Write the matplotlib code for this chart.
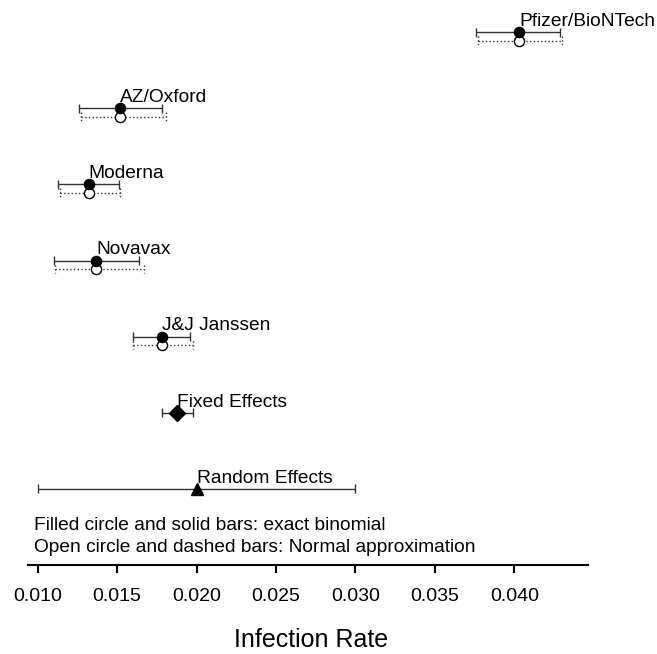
import numpy as np
import matplotlib.pyplot as plt

plt.rcParams['font.family'] = ['Liberation Sans', 'DejaVu Sans']

# Studien: Rate mit exaktem (binomial) und normalapprox. Konfidenzintervall
studien = ["Pfizer/BioNTech", "AZ/Oxford", "Moderna", "Novavax", "J&J Janssen"]
rate = [0.0403, 0.0152, 0.0132, 0.0137, 0.0178]
exakt_lo = [0.0376, 0.0126, 0.0113, 0.0110, 0.0160]
exakt_hi = [0.0429, 0.0178, 0.0151, 0.0164, 0.0196]
normal_lo = [0.0377, 0.0127, 0.0114, 0.0111, 0.0160]
normal_hi = [0.0430, 0.0181, 0.0152, 0.0167, 0.0198]

# gepoolte Schaetzer
fixed_rate, fixed_lo, fixed_hi = 0.01875, 0.0178, 0.0198
random_rate, random_lo, random_hi = 0.0200, 0.0100, 0.0300

ticks = [0.010, 0.015, 0.020, 0.025, 0.030, 0.035, 0.040]

W, H = 657, 654
fig = plt.figure(figsize=(W / 100, H / 100), dpi=100)
ax = fig.add_axes([27.7 / W, 1 - 565 / H, 560 / W, 565 / H])
ax.set_xlim(0.00937, 0.04462)
ax.set_ylim(7.0, -0.424)

cap = 0.058      # halbe Kappenhoehe in Zeilen
versatz = 0.11   # offener Kreis etwas tiefer
farbe = '#333333'

def zeichne_ci(y, lo, hi, stil):
    ax.hlines(y, lo, hi, colors=farbe, linestyles=stil, lw=1.0)
    ax.vlines([lo, hi], y - cap, y + cap, colors=farbe, linestyles=stil, lw=1.0)

for i, name in enumerate(studien):
    zeichne_ci(i, exakt_lo[i], exakt_hi[i], '-')
    zeichne_ci(i + versatz, normal_lo[i], normal_hi[i], ':')
    ax.plot(rate[i], i + versatz, 'o', ms=7.3, mfc='white', mec='black', mew=1.0, zorder=3)
    ax.plot(rate[i], i, 'o', ms=7.3, color='black', zorder=4)
    ax.annotate(name, (rate[i], i), xytext=(0, 4.5), textcoords='offset points',
                ha='left', va='baseline', fontsize=13.8)

n = len(studien)
zeichne_ci(n, fixed_lo, fixed_hi, '-')
ax.plot(fixed_rate, n, 'D', ms=8, color='black', zorder=4)
ax.annotate("Fixed Effects", (fixed_rate, n), xytext=(0, 4.5), textcoords='offset points',
            ha='left', va='baseline', fontsize=13.8)

zeichne_ci(n + 1, random_lo, random_hi, '-')
ax.plot(random_rate, n + 1, '^', ms=8.5, color='black', zorder=4)
ax.annotate("Random Effects", (random_rate, n + 1), xytext=(0, 4.5), textcoords='offset points',
            ha='left', va='baseline', fontsize=13.8)

for s in ['left', 'top', 'right']:
    ax.spines[s].set_visible(False)
ax.spines['bottom'].set_linewidth(1.5)
ax.set_yticks([])
ax.set_xticks(ticks)
ax.set_xticklabels([f"{t:.3f}" for t in ticks], fontsize=14)
ax.tick_params(axis='x', length=6, width=1.5, pad=10.5)

fig.text(34 / W, 1 - 525 / H, "Filled circle and solid bars: exact binomial",
         ha='left', va='center', fontsize=13.8)
fig.text(34 / W, 1 - 548 / H, "Open circle and dashed bars: Normal approximation",
         ha='left', va='center', fontsize=13.8)
fig.text(311 / W, 1 - 640 / H, "Infection Rate", ha='center', va='center', fontsize=18)

fig.savefig("out.png", dpi=100)
